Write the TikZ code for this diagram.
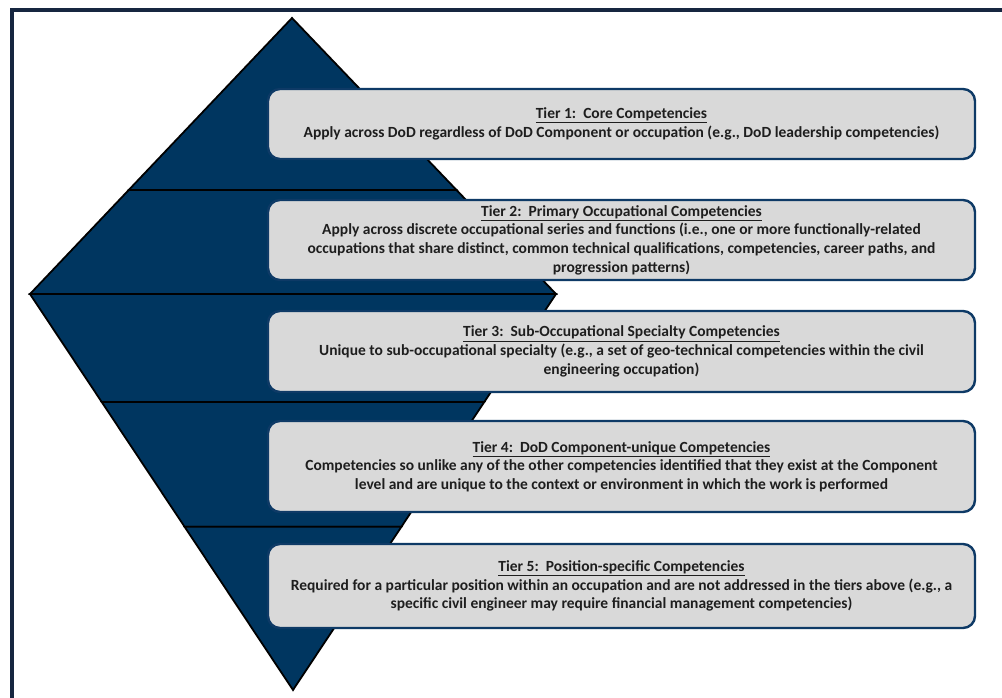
\documentclass[tikz,border=0pt]{standalone}
\usepackage{fontspec}
\setmainfont{Carlito}
\usetikzlibrary{calc}
\definecolor{navy}{RGB}{0,54,96}
\definecolor{boxline}{RGB}{14,58,102}
\definecolor{boxfill}{RGB}{217,217,217}
\definecolor{frameline}{RGB}{22,38,64}
\definecolor{txt}{RGB}{30,30,30}
\tikzset{
  slice/.style={fill=navy, draw=black, line width=1.8pt, line join=miter},
  tierbox/.style={rounded corners=12pt, draw=boxline, line width=2.4pt, fill=boxfill,
    minimum width=707pt, inner sep=0pt, align=center, text=txt,
    font=\bfseries\fontsize{15.5}{18.7}\selectfont},
  frame/.style={draw=frameline, line width=4pt}
}
\newcommand{\tiertitle}[1]{\underline{#1}}
\begin{document}
\begin{tikzpicture}[x=1pt,y=-1pt]
\useasboundingbox (0,0) rectangle (1002,698);
\fill[white] (0,0) rectangle (1002,698);
\draw[frame] (12,700) -- (12,10) -- (1004,10);
% kite vertices
\coordinate (T) at (292,18);
\coordinate (L) at (30,294);
\coordinate (R) at (556,294);
\coordinate (B) at (293,690);
\coordinate (a1) at ($(T)!0.623!(L)$);
\coordinate (b1) at ($(T)!0.623!(R)$);
\coordinate (a3) at ($(L)!0.2727!(B)$);
\coordinate (b3) at ($(R)!0.2727!(B)$);
\coordinate (a4) at ($(L)!0.588!(B)$);
\coordinate (b4) at ($(R)!0.588!(B)$);
\draw[slice] (T) -- (b1) -- (a1) -- cycle;
\draw[slice] (a1) -- (b1) -- (R) -- (L) -- cycle;
\draw[slice] (L) -- (R) -- (b3) -- (a3) -- cycle;
\draw[slice] (a3) -- (b3) -- (b4) -- (a4) -- cycle;
\draw[slice] (a4) -- (b4) -- (B) -- cycle;
% boxes
\node[tierbox, minimum height=70pt] (t1) at (621.5,124)
  {\tiertitle{Tier 1:\ \ Core Competencies}\\
   Apply across DoD regardless of DoD Component or occupation (e.g., DoD leadership competencies)};
\node[tierbox, minimum height=80pt] (t2) at (621.5,240)
  {\tiertitle{Tier 2:\ \ Primary Occupational Competencies}\\
   Apply across discrete occupational series and functions (i.e., one or more functionally-related\\
   occupations that share distinct, common technical qualifications, competencies, career paths, and\\
   progression patterns)};
\node[tierbox, minimum height=81pt] (t3) at (621.5,351.5)
  {\tiertitle{Tier 3:\ \ Sub-Occupational Specialty Competencies}\\
   Unique to sub-occupational specialty (e.g., a set of geo-technical competencies within the civil\\
   engineering occupation)};
\node[tierbox, minimum height=91pt] (t4) at (621.5,466.5)
  {\tiertitle{Tier 4:\ \ DoD Component-unique Competencies}\\
   Competencies so unlike any of the other competencies identified that they exist at the Component\\
   level and are unique to the context or environment in which the work is performed};
\node[tierbox, minimum height=84pt] (t5) at (621.5,586)
  {\tiertitle{Tier 5:\ \ Position-specific Competencies}\\
   Required for a particular position within an occupation and are not addressed in the tiers above (e.g., a\\
   specific civil engineer may require financial management competencies)};
\end{tikzpicture}
\end{document}
